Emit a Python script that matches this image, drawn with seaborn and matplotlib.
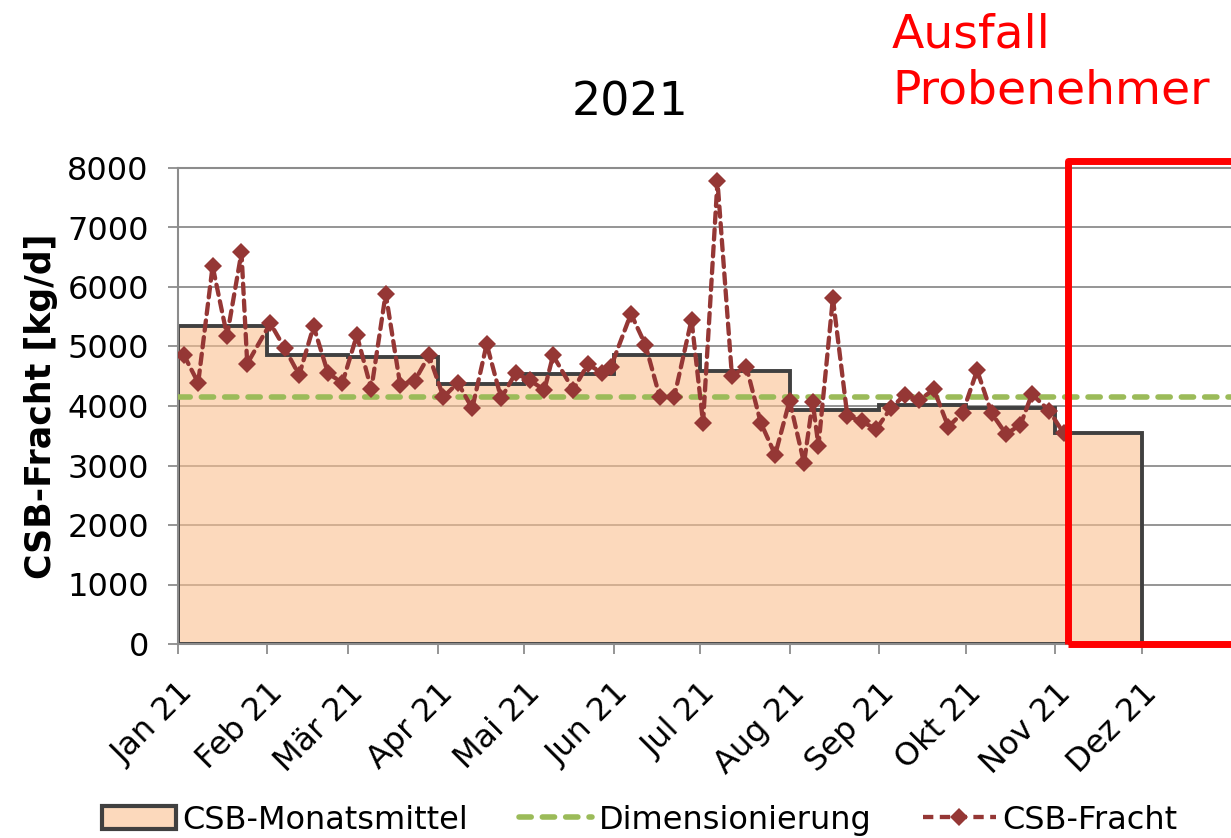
import matplotlib
matplotlib.use("Agg")
import matplotlib.pyplot as plt
import matplotlib.dates as mdates
from matplotlib.colors import to_rgba
from matplotlib.patches import Patch, Rectangle
from matplotlib.lines import Line2D
import seaborn as sns
import pandas as pd
import numpy as np

sns.set_theme(style="white")
plt.rcParams["font.family"] = ["DejaVu Sans"]
plt.rcParams["text.color"] = "black"

# ── DATA
month_starts = pd.date_range("2021-01-01", "2021-12-01", freq="MS")
month_labels = ["Jan 21", "Feb 21", "Mär 21", "Apr 21", "Mai 21", "Jun 21",
                "Jul 21", "Aug 21", "Sep 21", "Okt 21", "Nov 21", "Dez 21"]
monatsmittel = [5350, 4860, 4830, 4370, 4530, 4860, 4590, 3940, 4010, 3970, 3540]

dimensionierung = 4150

fracht_dates = pd.to_datetime([
    "2021-01-03", "2021-01-08", "2021-01-13", "2021-01-18", "2021-01-23", "2021-01-25",
    "2021-02-02", "2021-02-07", "2021-02-12", "2021-02-17", "2021-02-22", "2021-02-27",
    "2021-03-04", "2021-03-09", "2021-03-14", "2021-03-19", "2021-03-24", "2021-03-29",
    "2021-04-03", "2021-04-08", "2021-04-13", "2021-04-18", "2021-04-23", "2021-04-28",
    "2021-05-03", "2021-05-08", "2021-05-11", "2021-05-18", "2021-05-23", "2021-05-28",
    "2021-05-31", "2021-06-07", "2021-06-12", "2021-06-17", "2021-06-22", "2021-06-28",
    "2021-07-02", "2021-07-07", "2021-07-12", "2021-07-17", "2021-07-22", "2021-07-27",
    "2021-08-01", "2021-08-06", "2021-08-09", "2021-08-11", "2021-08-16", "2021-08-21",
    "2021-08-26", "2021-08-31", "2021-09-05", "2021-09-10", "2021-09-15", "2021-09-20",
    "2021-09-25", "2021-09-30", "2021-10-05", "2021-10-10", "2021-10-15", "2021-10-20",
    "2021-10-24", "2021-10-30", "2021-11-04"])
fracht_values = [
    4860, 4390, 6350, 5180, 6580, 4710,
    5390, 4970, 4520, 5340, 4550, 4390,
    5190, 4280, 5890, 4360, 4420, 4850,
    4150, 4390, 3960, 5040, 4130, 4550,
    4430, 4270, 4850, 4270, 4700, 4560,
    4650, 5550, 5030, 4150, 4150, 5450,
    3720, 7780, 4510, 4660, 3720, 3180,
    4090, 3040, 4070, 3330, 5810, 3840,
    3740, 3610, 3960, 4190, 4100, 4280,
    3650, 3890, 4600, 3880, 3530, 3680,
    4200, 3920, 3540]

ausfall_start = pd.Timestamp("2021-11-05 16:00")

# ── STYLE
FILL = to_rgba("#FAC090", 0.6)
EDGE = "#404040"
GREEN = "#9BBB59"
RED_LINE = "#953735"
GRID = "#8C8C8C"

fig = plt.figure(figsize=(12.31, 8.38), dpi=100)
ax = fig.add_axes([178/1231, 1-644/838, (1231-178)/1231, 476/838])

# monthly mean area (step polygon)
edges = list(month_starts)
poly_x = [edges[0]]
poly_y = [0]
for i, v in enumerate(monatsmittel):
    poly_x += [edges[i], edges[i+1]]
    poly_y += [v, v]
poly_x.append(edges[len(monatsmittel)])
poly_y.append(0)
ax.fill(mdates.date2num(poly_x), poly_y, facecolor=FILL, edgecolor=EDGE,
        linewidth=2.8, joinstyle="miter", zorder=2)

# design value
ax.axhline(dimensionierung, color=GREEN, lw=4, linestyle=(0, (2.2, 2.0)),
           dash_capstyle="round", zorder=3)

# measured loads
sns.lineplot(x=fracht_dates, y=fracht_values, ax=ax, color=RED_LINE, lw=3.1,
             linestyle=(0, (2.4, 1.5)), dash_capstyle="round",
             marker="D", markersize=9, markeredgewidth=0, zorder=4)

# failure box
box = Rectangle((mdates.date2num(ausfall_start), 0), 80, 8120, fill=False,
                edgecolor="#FF0000", lw=5, joinstyle="round", clip_on=False, zorder=6)
ax.add_patch(box)

# ── AXES
ax.set_xlim(mdates.date2num(pd.Timestamp("2021-01-01")),
            mdates.date2num(pd.Timestamp("2022-01-01")))
ax.set_ylim(0, 8000)
ax.set_yticks(np.arange(0, 8001, 1000))
ax.set_xticks(mdates.date2num(month_starts))
ax.set_xticklabels(month_labels, rotation=45, ha="right", va="top",
                   rotation_mode="anchor")
ax.tick_params(axis="both", labelsize=23, colors="black")
ax.tick_params(axis="y", length=7, width=1.3, color=GRID, pad=14, left=True)
ax.tick_params(axis="x", length=7, width=1.3, color=GRID, pad=17, bottom=True)
ax.grid(axis="y", color=GRID, lw=1.3, zorder=0)
ax.set_axisbelow(True)
for s in ["left", "bottom", "top"]:
    ax.spines[s].set_color(GRID)
    ax.spines[s].set_linewidth(1.5)
ax.spines["right"].set_visible(False)

ax.set_xlabel("")
ax.set_ylabel("CSB-Fracht [kg/d]", fontsize=25, fontweight="bold", color="black")
ax.yaxis.set_label_coords((58-178)/1053, 0.5)

# ── TEXTS
fig.text(630/1231, 1-103/838, "2021", ha="center", va="center", fontsize=33, color="black")
fig.text(892/1231, 1-47/838, "Ausfall", ha="left", va="baseline",
         fontsize=34, color="#FF0000")
fig.text(892/1231, 1-103/838, "Probenehmer", ha="left", va="baseline",
         fontsize=34, color="#FF0000")

# ── LEGEND
handles = [
    Patch(facecolor=FILL, edgecolor=EDGE, linewidth=3),
    Line2D([], [], color=GREEN, lw=4, linestyle=(0, (2.2, 2.0)), dash_capstyle="round"),
    Line2D([], [], color=RED_LINE, lw=3.1, linestyle=(0, (2.4, 1.5)),
           marker="D", markersize=9, markeredgewidth=0),
]
labels = ["CSB-Monatsmittel", "Dimensionierung", "CSB-Fracht"]
fig.legend(handles, labels, loc="center", bbox_to_anchor=(640/1231, 1-820/838),
           ncol=3, frameon=False, fontsize=23, handlelength=2.3,
           handletextpad=0.2, columnspacing=1.6)

fig.savefig("out.png", dpi=100)
